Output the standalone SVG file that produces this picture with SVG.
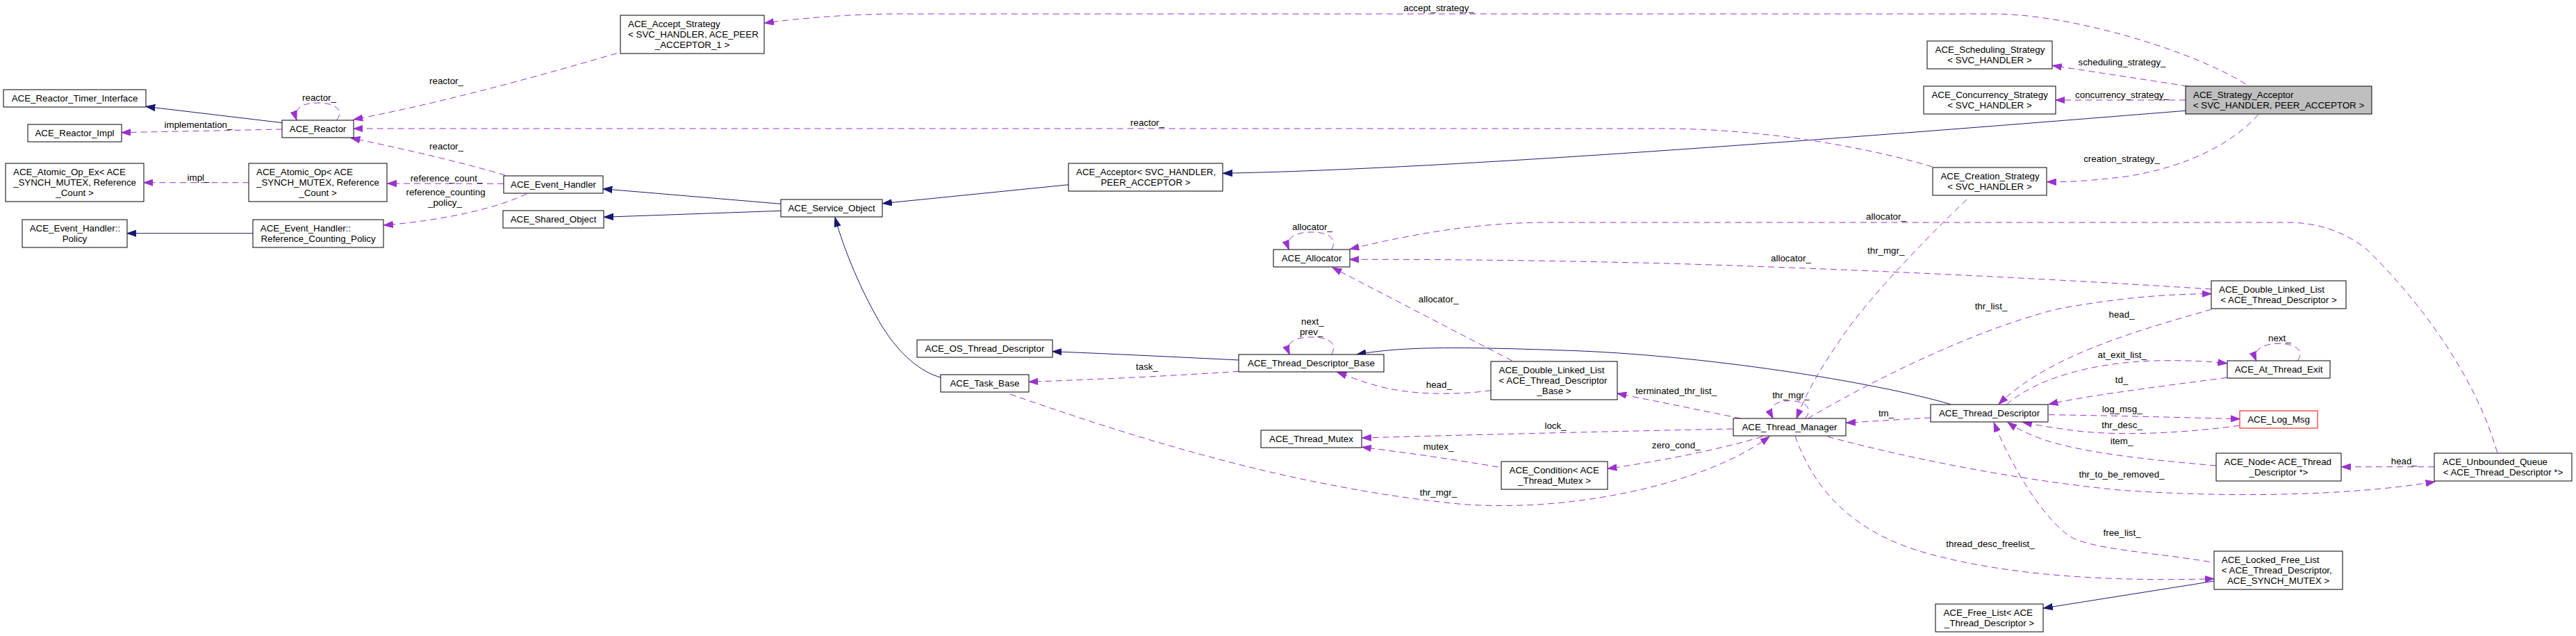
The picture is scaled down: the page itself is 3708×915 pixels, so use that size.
<svg xmlns="http://www.w3.org/2000/svg" width="3708" height="915" viewBox="0 0 3708 915">
<style>
text{font-family:"Liberation Sans",Arial,Helvetica,sans-serif;font-size:13.33px;fill:#000}
.m{text-anchor:middle}
.n rect{fill:#fff;stroke:#000;stroke-width:1}
.e{fill:none;stroke:#9a32cd;stroke-width:1;stroke-dasharray:9,6;marker-end:url(#ap)}
.i{fill:none;stroke:#191970;stroke-width:1;marker-end:url(#ab)}
.lb text{text-anchor:middle}
</style>
<defs>
<marker id="ap" markerUnits="userSpaceOnUse" markerWidth="14" markerHeight="10" viewBox="0 0 14 10" refX="13.3" refY="5" orient="auto"><path d="M0,0.35 L13.3,5 L0,9.65 z" fill="#9a32cd" stroke="#9a32cd" stroke-width="1"/></marker>
<marker id="ab" markerUnits="userSpaceOnUse" markerWidth="14" markerHeight="10" viewBox="0 0 14 10" refX="13.3" refY="5" orient="auto"><path d="M0,0.35 L13.3,5 L0,9.65 z" fill="#191970" stroke="#191970" stroke-width="1"/></marker>
</defs>
<rect x="0" y="0" width="3708" height="915" fill="#fff"/>

<g id="edges">
<!-- inheritance -->
<path class="i" d="M406.5,176.7 L210,153.3"/>
<path class="i" d="M1124,293.3 L868,271.7"/>
<path class="i" d="M1124,303.3 L869.5,312.3"/>
<path class="i" d="M1538.5,265.7 L1270.5,292.7"/>
<path class="i" d="M3146,159.3 C2700,195 2100,243 1760.5,249.3"/>
<path class="i" d="M364,335.7 L183,335.7"/>
<path class="i" d="M1354,543 C1325,535 1295,510 1270,470 C1240,420 1215,360 1202,313"/>
<path class="i" d="M1783,518 C1700,514 1600,509 1515,505.7"/>
<path class="i" d="M2808,581.7 C2700,550 2450,510 2250,504 C2100,499 2020,498 1953,510"/>
<path class="i" d="M3187,836 L2941.5,875"/>
<!-- usage -->
<path class="e" d="M3232.5,121 C3160,75 2990,22 2874,20 L1280,20 C1220,21 1150,26 1100.5,33.3"/>
<path class="e" d="M3149,124 L2954.5,94.3"/>
<path class="e" d="M3146,144 L2959,144"/>
<path class="e" d="M3250.6,165 C3215,205 3150,240 3060,254 C3010,260 2980,262 2946.5,261.7"/>
<path class="e" d="M2781.6,240 C2700,215 2550,186 2400,185 L509,185"/>
<path class="e" d="M2831,287 C2760,355 2690,430 2655,480 C2620,530 2600,565 2586,602"/>
<path class="e" d="M484.4,172.7 C496,160 484,148 458,148 C432,148 422,158 427,172.7"/>
<path class="e" d="M406.5,186 L175,190.7"/>
<path class="e" d="M887.8,76.7 C790,105 650,145 509,172"/>
<path class="e" d="M727,252 C680,238 600,218 505,198.5"/>
<path class="e" d="M725,264.3 L557.5,264"/>
<path class="e" d="M758,279 C720,297 650,316 552.5,324"/>
<path class="e" d="M358.2,262.7 L207,262.7"/>
<path class="e" d="M1916.6,359 C1925,345 1915,334 1888,334 C1860,334 1850,345 1855.4,359"/>
<path class="e" d="M3594.6,651 C3560,530 3470,420 3406,358 C3370,330 3330,320 3293,320 L2230,320 C2130,320 2040,335 1943,358.3"/>
<path class="e" d="M3183,416 C3000,404 2700,388 2400,379 C2200,374 2050,373 1943,373.3"/>
<path class="e" d="M2176.5,519 L1918,385"/>
<path class="e" d="M2598.5,602 C2610,588 2600,576.7 2576.5,576.7 C2552,576.7 2545,588 2552,602"/>
<path class="e" d="M2505.7,602 L2328,566"/>
<path class="e" d="M2494.5,617 C2300,621 2100,626 1960.5,630"/>
<path class="e" d="M2156.7,672 C2100,662 2030,652 1960.5,643.3"/>
<path class="e" d="M2536.7,628.3 C2480,645 2400,662 2314,674.3"/>
<path class="e" d="M1454,567 C1620,625 1850,700 2100,725 C2250,738 2450,700 2547,628"/>
<path class="e" d="M1783.4,534.3 C1700,540 1580,546 1481,549.3"/>
<path class="e" d="M1916.7,510 C1925,495 1915,485 1887.5,485 C1860,485 1850,495 1856.2,510"/>
<path class="e" d="M2146.4,561.7 C2100,568 2040,569 1990,557 C1965,551 1945,543 1925,535.5"/>
<path class="e" d="M2602.6,602 C2690,550 2840,475 2960,445 C3050,428 3120,423 3183,422.7"/>
<path class="e" d="M3183.3,445 C3080,475 2950,510 2877,581.5"/>
<path class="e" d="M2888.3,582 C2930,545 3010,522 3100,519 C3150,518 3180,520 3205.6,522.7"/>
<path class="e" d="M3205.6,543.3 C3100,557 3000,570 2949,581.7"/>
<path class="e" d="M3307,519 C3318,505 3305,494.3 3280,494.3 C3255,494.3 3242,505 3247.8,519"/>
<path class="e" d="M2949,596.7 C3050,598 3150,601 3224,602.7"/>
<path class="e" d="M3223.6,612.3 C3150,622 3060,628 2990,620 C2950,615 2930,611 2911.7,607.5"/>
<path class="e" d="M3190,670 C3100,662 3020,654 2960,638 C2930,630 2905,618 2890,607.5"/>
<path class="e" d="M3504,671.7 L3370.5,671.7"/>
<path class="e" d="M2631,628.3 C2750,660 2900,690 3050,705 C3200,716 3380,714 3505,693"/>
<path class="e" d="M3180.8,808.3 C3100,795 3010,790 2980,772 C2940,745 2895,670 2870,608"/>
<path class="e" d="M2584,627.5 C2610,700 2660,760 2760,792 C2860,822 3000,838 3187,832.7"/>
<path class="e" d="M2779,601 C2740,603 2700,606 2657.5,608.3"/>
</g>

<g id="edge-labels" class="lb">
<text x="459.5" y="144.5">reactor_</text>
<text x="285.5" y="183.5">implementation_</text>
<text x="285.5" y="259.5">impl_</text>
<text x="642.5" y="121.2">reactor_</text>
<text x="642.5" y="215.2">reactor_</text>
<text x="642.5" y="260.5">reference_count_</text>
<text x="641.5" y="280.5">reference_counting</text>
<text x="640.5" y="295.5">_policy_</text>
<text x="1651.5" y="181.2">reactor_</text>
<text x="2071" y="16.2">accept_strategy_</text>
<text x="1889" y="331.2">allocator_</text>
<text x="2070.7" y="435.2">allocator_</text>
<text x="2715" y="316.2">allocator_</text>
<text x="2714.7" y="364.5">thr_mgr_</text>
<text x="2578" y="376.2">allocator_</text>
<text x="2866" y="444.5">thr_list_</text>
<text x="3054.5" y="93.5">scheduling_strategy_</text>
<text x="3054.5" y="140.5">concurrency_strategy_</text>
<text x="3054" y="232.5">creation_strategy_</text>
<text x="3054" y="457.2">head_</text>
<text x="1651" y="532.2">task_</text>
<text x="1889.3" y="467.2">next_</text>
<text x="1887.6" y="481.8">prev_</text>
<text x="2071.3" y="557.5">head_</text>
<text x="2239" y="616.5">lock_</text>
<text x="2070.5" y="647.2">mutex_</text>
<text x="2070.4" y="713.2">thr_mgr_</text>
<text x="2412.7" y="567.2">terminated_thr_list_</text>
<text x="2577.8" y="572.8">thr_mgr_</text>
<text x="2412.7" y="644.5">zero_cond_</text>
<text x="2715" y="598.8">tm_</text>
<text x="2865" y="787.2">thread_desc_freelist_</text>
<text x="3281.3" y="491.2">next_</text>
<text x="3054.8" y="515.2">at_exit_list_</text>
<text x="3054" y="551.2">td_</text>
<text x="3054.7" y="593.2">log_msg_</text>
<text x="3054.5" y="616.2">thr_desc_</text>
<text x="3054" y="638.8">item_</text>
<text x="3460.3" y="667.8">head_</text>
<text x="3054" y="687.2">thr_to_be_removed_</text>
<text x="3054.6" y="771.2">free_list_</text>
</g>

<g id="n_timer" class="n"><rect x="5" y="129" width="205" height="25"/><text class="m" x="107.5" y="145.5">ACE_Reactor_Timer_Interface</text></g>
<g id="n_reactor_impl" class="n"><rect x="40" y="179" width="135" height="25"/><text class="m" x="107.5" y="195.5">ACE_Reactor_Impl</text></g>
<g id="n_reactor" class="n"><rect x="406" y="173" width="103" height="25"/><text class="m" x="457.5" y="189.5">ACE_Reactor</text></g>
<g id="n_atomic_ex" class="n"><rect x="8" y="235" width="199" height="55"/><text x="19" y="251.5">ACE_Atomic_Op_Ex&lt; ACE</text><text x="19" y="266.5">_SYNCH_MUTEX, Reference</text><text class="m" x="107.5" y="281.5">_Count &gt;</text></g>
<g id="n_atomic" class="n"><rect x="358" y="235" width="199" height="55"/><text x="369" y="251.5">ACE_Atomic_Op&lt; ACE</text><text x="369" y="266.5">_SYNCH_MUTEX, Reference</text><text class="m" x="457.5" y="281.5">_Count &gt;</text></g>
<g id="n_policy" class="n"><rect x="32" y="316" width="151" height="40"/><text x="42.7" y="332.5">ACE_Event_Handler::</text><text class="m" x="107.5" y="347.5">Policy</text></g>
<g id="n_rcp" class="n"><rect x="364" y="316" width="188" height="40"/><text x="374.8" y="332.5">ACE_Event_Handler::</text><text class="m" x="458" y="347.5">Reference_Counting_Policy</text></g>
<g id="n_accept_strategy" class="n"><rect x="893" y="22" width="207" height="55"/><text x="904" y="38.5">ACE_Accept_Strategy</text><text x="904" y="53.5">&lt; SVC_HANDLER, ACE_PEER</text><text class="m" x="996.5" y="68.5">_ACCEPTOR_1 &gt;</text></g>
<g id="n_event_handler" class="n"><rect x="725" y="253" width="143" height="25"/><text class="m" x="796.5" y="269.5">ACE_Event_Handler</text></g>
<g id="n_shared_object" class="n"><rect x="724" y="303" width="145" height="25"/><text class="m" x="796.5" y="319.5">ACE_Shared_Object</text></g>
<g id="n_service_object" class="n"><rect x="1124" y="287" width="146" height="25"/><text class="m" x="1197" y="303.5">ACE_Service_Object</text></g>
<g id="n_acceptor" class="n"><rect x="1538" y="235" width="222" height="40"/><text x="1549" y="251.5">ACE_Acceptor&lt; SVC_HANDLER,</text><text class="m" x="1649" y="266.5">PEER_ACCEPTOR &gt;</text></g>
<g id="n_scheduling" class="n"><rect x="2774" y="59" width="180" height="40"/><text x="2785.5" y="75.5">ACE_Scheduling_Strategy</text><text class="m" x="2864" y="90.5">&lt; SVC_HANDLER &gt;</text></g>
<g id="n_concurrency" class="n"><rect x="2769" y="124" width="190" height="40"/><text x="2780.4" y="140.5">ACE_Concurrency_Strategy</text><text class="m" x="2864" y="155.5">&lt; SVC_HANDLER &gt;</text></g>
<g id="n_creation" class="n"><rect x="2782" y="241" width="164" height="40"/><text x="2793.4" y="257.5">ACE_Creation_Strategy</text><text class="m" x="2864" y="272.5">&lt; SVC_HANDLER &gt;</text></g>
<g id="n_strategy_acceptor" class="n"><rect x="3146" y="124" width="268" height="40" style="fill:#bfbfbf"/><text x="3157" y="140.5">ACE_Strategy_Acceptor</text><text class="m" x="3280" y="155.5">&lt; SVC_HANDLER, PEER_ACCEPTOR &gt;</text></g>
<g id="n_allocator" class="n"><rect x="1833" y="359" width="110" height="25"/><text class="m" x="1888" y="375.5">ACE_Allocator</text></g>
<g id="n_dll_td" class="n"><rect x="3183" y="404" width="194" height="40"/><text x="3194" y="420.5">ACE_Double_Linked_List</text><text class="m" x="3280" y="435.5">&lt; ACE_Thread_Descriptor &gt;</text></g>
<g id="n_os_td" class="n"><rect x="1320" y="489" width="195" height="25"/><text class="m" x="1417.5" y="505.5">ACE_OS_Thread_Descriptor</text></g>
<g id="n_task_base" class="n"><rect x="1354" y="539" width="127" height="25"/><text class="m" x="1417.5" y="555.5">ACE_Task_Base</text></g>
<g id="n_tdb" class="n"><rect x="1783" y="510" width="209" height="25"/><text class="m" x="1887.5" y="526.5">ACE_Thread_Descriptor_Base</text></g>
<g id="n_dll_tdb" class="n"><rect x="2146" y="520" width="182" height="55"/><text x="2157.5" y="536.5">ACE_Double_Linked_List</text><text x="2157.5" y="551.5">&lt; ACE_Thread_Descriptor</text><text class="m" x="2237" y="566.5">_Base &gt;</text></g>
<g id="n_mutex" class="n"><rect x="1815" y="619" width="145" height="25"/><text class="m" x="1887.5" y="635.5">ACE_Thread_Mutex</text></g>
<g id="n_condition" class="n"><rect x="2161" y="664" width="153" height="40"/><text x="2172.5" y="680.5">ACE_Condition&lt; ACE</text><text class="m" x="2237.5" y="695.5">_Thread_Mutex &gt;</text></g>
<g id="n_thread_manager" class="n"><rect x="2495" y="602" width="162" height="25"/><text class="m" x="2576" y="618.5">ACE_Thread_Manager</text></g>
<g id="n_thread_descriptor" class="n"><rect x="2779" y="582" width="169" height="25"/><text class="m" x="2863.5" y="598.5">ACE_Thread_Descriptor</text></g>
<g id="n_free_list" class="n"><rect x="2786" y="869" width="155" height="40"/><text x="2797.4" y="885.5">ACE_Free_List&lt; ACE</text><text class="m" x="2863.5" y="900.5">_Thread_Descriptor &gt;</text></g>
<g id="n_at_thread_exit" class="n"><rect x="3206" y="519" width="148" height="25"/><text class="m" x="3280" y="535.5">ACE_At_Thread_Exit</text></g>
<g id="n_log_msg" class="n"><rect x="3224" y="591" width="112" height="25" style="stroke:#ff0000"/><text class="m" x="3280" y="607.5">ACE_Log_Msg</text></g>
<g id="n_node" class="n"><rect x="3190" y="652" width="180" height="40"/><text x="3201.5" y="668.5">ACE_Node&lt; ACE_Thread</text><text class="m" x="3280" y="683.5">_Descriptor *&gt;</text></g>
<g id="n_unbounded_queue" class="n"><rect x="3504" y="652" width="198" height="40"/><text x="3515.8" y="668.5">ACE_Unbounded_Queue</text><text class="m" x="3603" y="683.5">&lt; ACE_Thread_Descriptor *&gt;</text></g>
<g id="n_locked_free_list" class="n"><rect x="3187" y="793" width="185" height="55"/><text x="3197.8" y="809.5">ACE_Locked_Free_List</text><text x="3197.8" y="824.5">&lt; ACE_Thread_Descriptor,</text><text class="m" x="3279.5" y="839.5">ACE_SYNCH_MUTEX &gt;</text></g>
</svg>
